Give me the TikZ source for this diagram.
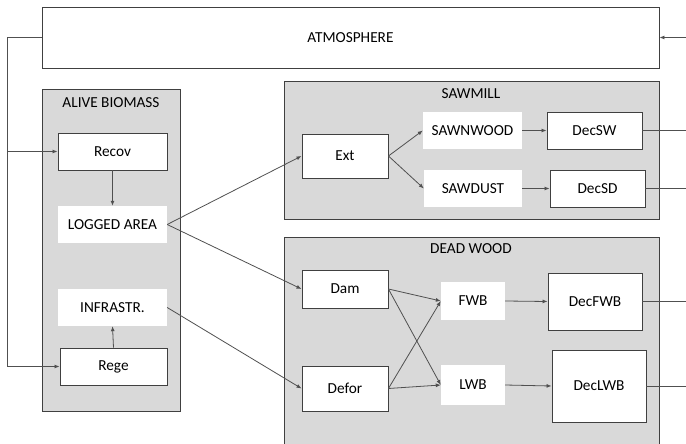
\documentclass[tikz,border=0pt]{standalone}
\usepackage{fontspec}
\setmainfont{Carlito}
\usetikzlibrary{arrows.meta}
\definecolor{boxline}{HTML}{404040}
\definecolor{groupfill}{HTML}{D9D9D9}
\definecolor{connline}{HTML}{505050}
\begin{document}
\begin{tikzpicture}[x=1pt,y=-1pt,
  every node/.style={font=\fontsize{15.3}{18}\selectfont, inner sep=0pt, text=black},
  group/.style={draw=boxline, fill=groupfill, line width=0.9pt},
  wbox/.style={draw=boxline, fill=white, line width=0.9pt},
  plain/.style={fill=white},
  conn/.style={draw=connline, line width=0.8pt},
  arr/.style={conn, -{Latex[length=5pt,width=4pt]}}
]
\clip (0,0) rectangle (686,444);
\useasboundingbox (0,0) rectangle (686,444);
% containers
\node[wbox, minimum width=617pt, minimum height=61pt] (atm) at (350.5,37.5) {ATMOSPHERE};
\node[group, minimum width=138pt, minimum height=322pt] (alive) at (111,250) {};
\node[group, minimum width=375pt, minimum height=138pt] (saw) at (471.5,150) {};
\node[group, minimum width=375pt, minimum height=213pt] (dead) at (471.5,343.5) {};
\node (alivet) at (111,103) {ALIVE BIOMASS};
\node (sawt) at (471,94) {SAWMILL};
\node (deadt) at (471,249) {DEAD WOOD};
% alive biomass
\node[wbox, minimum width=109pt, minimum height=37pt] (recov) at (112.5,151.5) {Recov};
\node[plain, minimum width=109pt, minimum height=37pt] (logged) at (112.5,224.5) {LOGGED AREA};
\node[plain, minimum width=109pt, minimum height=37pt] (infra) at (112.5,307.5) {INFRASTR.};
\node[wbox, minimum width=107pt, minimum height=37pt] (rege) at (113.5,366.5) {Rege};
% sawmill
\node[wbox, minimum width=86pt, minimum height=44pt] (ext) at (345,156) {Ext};
\node[plain, minimum width=99pt, minimum height=37pt] (sawn) at (472.5,130.5) {SAWNWOOD};
\node[plain, minimum width=98pt, minimum height=37pt] (dust) at (473,188.5) {SAWDUST};
\node[wbox, minimum width=95pt, minimum height=37pt] (decsw) at (594.5,130.5) {DecSW};
\node[wbox, minimum width=95pt, minimum height=37pt] (decsd) at (597.5,188.5) {DecSD};
% dead wood
\node[wbox, minimum width=86pt, minimum height=38pt] (dam) at (345,289) {Dam};
\node[wbox, minimum width=86pt, minimum height=45pt] (defor) at (345,388.5) {Defor};
\node[plain, minimum width=64pt, minimum height=38pt] (fwb) at (473,301) {FWB};
\node[plain, minimum width=64pt, minimum height=40pt] (lwb) at (473,385) {LWB};
\node[wbox, minimum width=94pt, minimum height=57pt] (decfwb) at (595,301.5) {DecFWB};
\node[wbox, minimum width=94pt, minimum height=72pt] (declwb) at (599,386) {DecLWB};
% coordinates
\coordinate (ltop) at (7,37.5);
\coordinate (lmid) at (7,151.5);
\coordinate (rin) at (686,37.5);
\coordinate (rsw) at (686,130.5);
\coordinate (rsd) at (686,188.5);
\coordinate (rfwb) at (686,301.5);
\coordinate (rlwb) at (686,386);
% connectors
\draw[conn] (atm.west) -- (ltop);
\draw[arr] (ltop) |- (rege.west);
\draw[arr] (lmid) -- (recov.west);
\draw[arr] (rin) -- (atm.east);
\draw[arr] (recov.south) -- (logged.north);
\draw[arr] (rege.north) -- (infra.south);
\draw[arr] (logged.east) -- (ext.west);
\draw[arr] (logged.east) -- (dam.west);
\draw[arr] (infra.east) -- (defor.west);
\draw[arr] (ext.east) -- (sawn.west);
\draw[arr] (ext.east) -- (dust.west);
\draw[arr] (sawn.east) -- (decsw.west);
\draw[arr] (dust.east) -- (decsd.west);
\draw[conn] (decsw.east) -- (rsw);
\draw[conn] (decsd.east) -- (rsd);
\draw[arr] (dam.east) -- (fwb.west);
\draw[arr] (dam.east) -- (lwb.west);
\draw[arr] (defor.east) -- (fwb.west);
\draw[arr] (defor.east) -- (lwb.west);
\draw[arr] (fwb.east) -- (decfwb.west);
\draw[arr] (lwb.east) -- (declwb.west);
\draw[conn] (decfwb.east) -- (rfwb);
\draw[conn] (declwb.east) -- (rlwb);
\end{tikzpicture}
\end{document}
